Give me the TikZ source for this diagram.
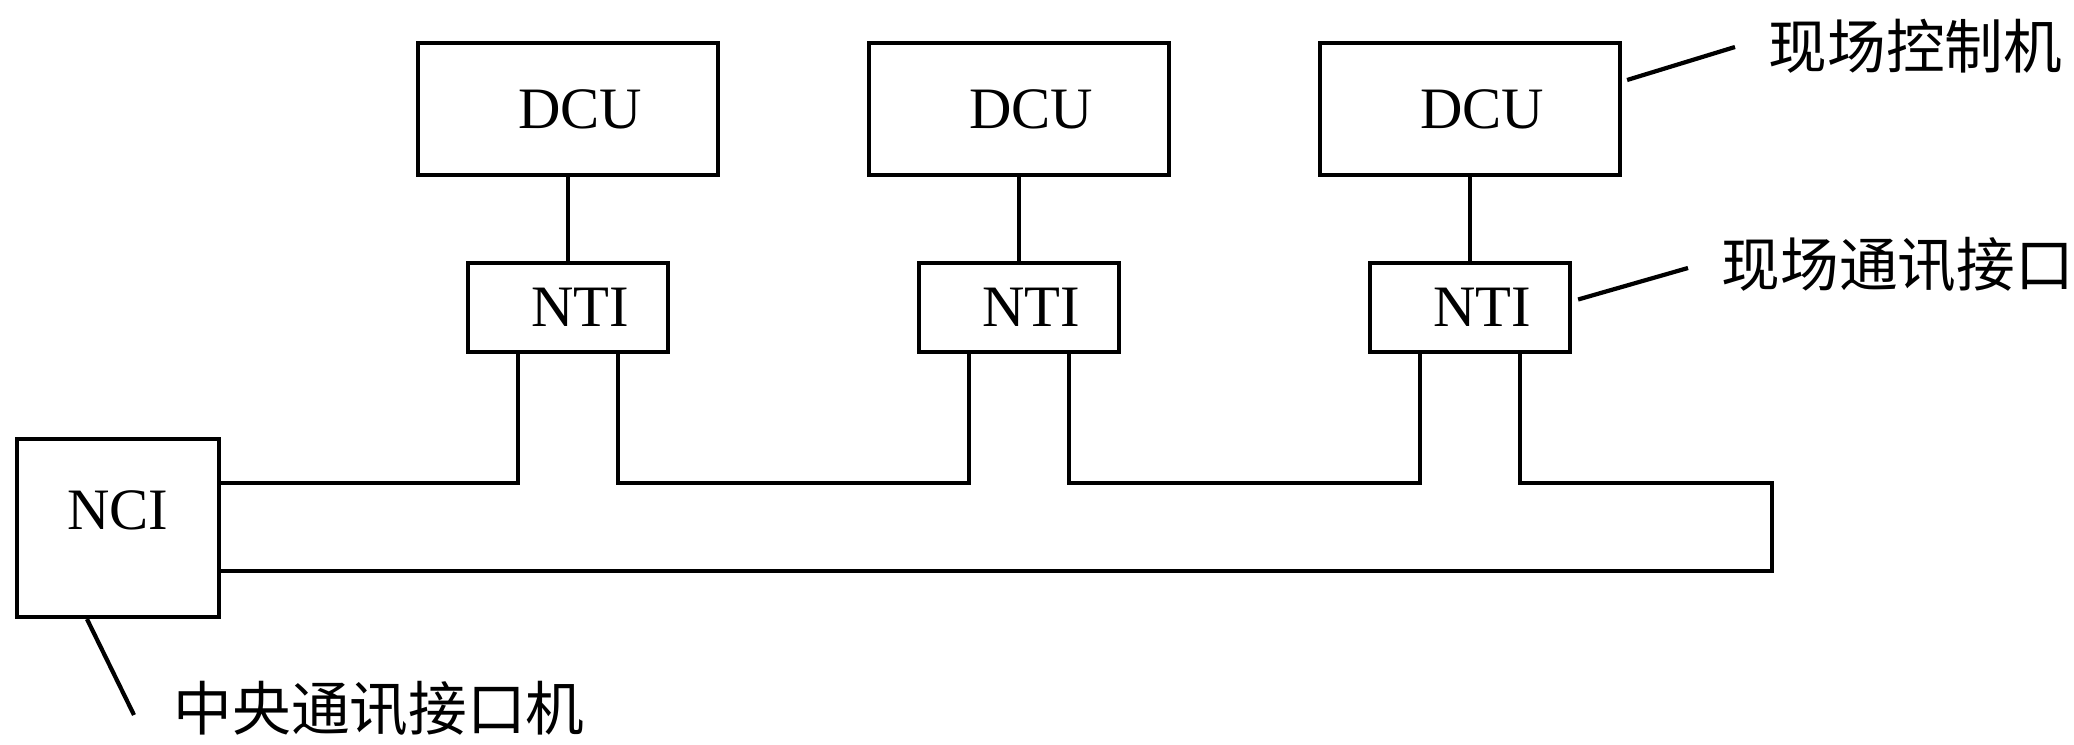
\documentclass[tikz,border=0pt]{standalone}
\usepackage{fontspec}
\setmainfont{Liberation Serif}
\newfontfamily\cjk{Noto Sans CJK SC}
\usetikzlibrary{positioning,calc}

\begin{document}
\begin{tikzpicture}[
  unit/.style={draw, line width=1.2pt, minimum width=3cm, minimum height=1.32cm,
               inner sep=0pt, font=\fontsize{16.7}{20}\selectfont,
               execute at begin node={\hspace*{0.24cm}}},
  iface/.style={unit, minimum width=2cm, minimum height=0.89cm},
  hub/.style={draw, line width=1.2pt, minimum width=2.02cm, minimum height=1.78cm,
              inner sep=0pt, text height=0.4cm, text depth=0.38cm,
              font=\fontsize{16.7}{20}\selectfont},
  tag/.style={anchor=west, inner sep=0pt, font=\cjk\fontsize{16.7}{20}\selectfont},
  wire/.style={line width=1.2pt}
]
\useasboundingbox (0,0) rectangle (20.74,7.44);

\node[unit]  (dcuA) at (5.68,6.35)  {DCU};
\node[unit]  (dcuB) at (10.19,6.35) {DCU};
\node[unit]  (dcuC) at (14.70,6.35) {DCU};
\node[iface] (ntiA) at (5.68,4.365)  {NTI};
\node[iface] (ntiB) at (10.19,4.365) {NTI};
\node[iface] (ntiC) at (14.70,4.365) {NTI};
\node[hub]   (nci)  at (1.18,2.16)  {NCI};

\node[tag] (lblDcu) at (17.68,6.98) {现场控制机};
\node[tag] (lblNti) at (17.21,4.79) {现场通讯接口};
\node[tag] (lblNci) at (1.73,0.35)  {中央通讯接口机};

\coordinate (busTop) at (17.72,2.61);
\coordinate (busBot) at (17.72,1.73);
\coordinate (tipDcu) at (17.35,6.97);
\coordinate (tipNti) at (16.88,4.76);
\coordinate (tipNci) at (1.34,0.29);

\foreach \k in {A,B,C} {
  \coordinate (leg\k-l) at ($(nti\k.south)+(-0.5,0)$);
  \coordinate (leg\k-r) at ($(nti\k.south)+(0.5,0)$);
  \draw[wire] (dcu\k) -- (nti\k);
}

\draw[wire] (nci.east |- busTop) -| (legA-l);
\draw[wire] (legA-r) |- (legB-l |- busTop) -- (legB-l);
\draw[wire] (legB-r) |- (legC-l |- busTop) -- (legC-l);
\draw[wire] (legC-r) |- (busTop) -- (busBot) -- (nci.east |- busBot);

\draw[wire] ($(dcuC.east)+(0.05,0.29)$) -- (tipDcu);
\draw[wire] ($(ntiC.east)+(0.06,0.08)$) -- (tipNti);
\draw[wire] ($(nci.south)+(-0.31,0)$) -- (tipNci);

\end{tikzpicture}
\end{document}
